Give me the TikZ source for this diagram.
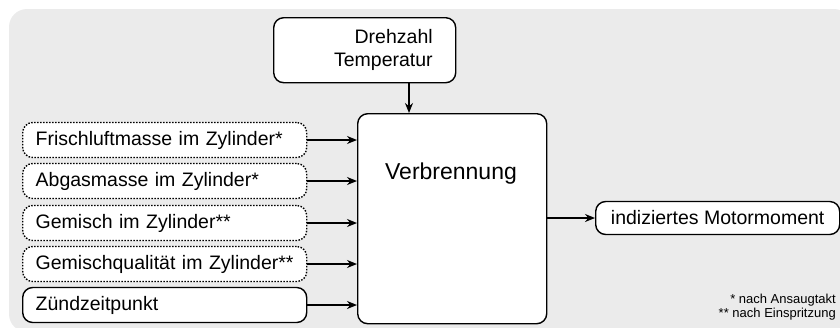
\documentclass[tikz,border=0pt]{standalone}
\usepackage{fontspec}
\setmainfont{Liberation Sans}
\usetikzlibrary{arrows.meta,calc}
\definecolor{bggray}{HTML}{EBEBEB}
\begin{document}
\begin{tikzpicture}[x=1pt,y=-1pt,
  box/.style={draw=black, line width=1.4pt, rounded corners=10pt, fill=white, inner sep=0pt},
  txt/.style={font=\fontsize{19.5pt}{23pt}\selectfont},
  inbox/.style={box, txt, text width=258pt, inner xsep=13pt, align=left, minimum height=35pt, anchor=west},
  dotbox/.style={inbox, dash pattern=on 1.5pt off 1.5pt},
  arr/.style={line width=2pt, -{Stealth[length=10pt,width=8pt]}}
]
\useasboundingbox (0,0) rectangle (840,327);
\begin{scope}
\clip (0,0) rectangle (840,327);
\fill[bggray, rounded corners=18pt] (9,9) rectangle (852,332);
\end{scope}

\node[box, txt, text width=136pt, inner xsep=23pt, align=right, minimum height=65pt, anchor=north west] (Dt) at (273,17) {Drehzahl\\Temperatur};

\node[box, minimum width=189pt, minimum height=210pt, anchor=north west] (V) at (357,113) {};
\node[font=\fontsize{23pt}{27pt}\selectfont, inner sep=0pt] (Vt) at (451,174) {Verbrennung};

\node[dotbox] (I1) at (22,140) {Frischluftmasse im Zylinder*};
\node[dotbox] (I2) at (22,181) {Abgasmasse im Zylinder*};
\node[dotbox] (I3) at (22,223) {Gemisch im Zylinder**};
\node[dotbox] (I4) at (22,264) {Gemischqualität im Zylinder**};
\node[inbox] (I5) at (22,305) {Zündzeitpunkt};

\node[box, txt, minimum width=244pt, minimum height=33pt, anchor=west] (Out) at (595,218) {indiziertes Motormoment};

\node[font=\fontsize{13pt}{14.5pt}\selectfont, align=right, anchor=east, inner sep=0pt] (Fn) at (836,307) {* nach Ansaugtakt\\** nach Einspritzung};

\coordinate (ax) at (409,0);
\draw[arr] (ax |- Dt.south) -- (ax |- V.north);
\foreach \i in {1,...,5} {
  \draw[arr] (I\i.east) -- (I\i.east -| V.west);
}
\draw[arr] (V.east |- Out.west) -- (Out.west);
\end{tikzpicture}
\end{document}
